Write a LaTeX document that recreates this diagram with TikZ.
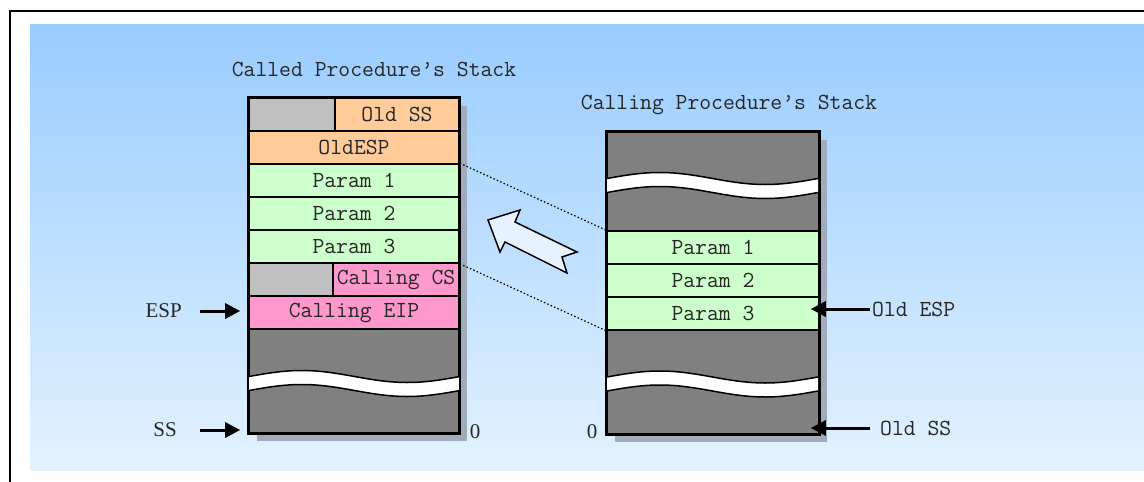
\documentclass[tikz,border=0pt]{standalone}
\usepackage{fontspec}
\usepackage{xcolor}
\usepackage{tikz}
\usetikzlibrary{arrows.meta,positioning}
\newfontfamily\labelfont{Liberation Serif}
\definecolor{skytop}{RGB}{153,204,255}
\definecolor{skybot}{RGB}{227,242,255}
\definecolor{oldclr}{RGB}{255,204,153}
\definecolor{parclr}{RGB}{204,255,204}
\definecolor{callclr}{RGB}{255,153,204}
\definecolor{padclr}{RGB}{192,192,192}
\definecolor{memclr}{RGB}{128,128,128}
\definecolor{shadeclr}{RGB}{160,172,188}
\definecolor{arrowfill}{RGB}{230,242,255}

\begin{document}
\begin{tikzpicture}[x=1pt,y=-1pt,
  cell/.style={draw,line width=1.6pt,inner sep=0pt,minimum height=33pt,text=black!85,font=\fontsize{23}{25}\selectfont\ttfamily},
  lwide/.style={cell,minimum width=210pt},
  rwide/.style={cell,minimum width=212pt},
  stkline/.style={line width=2.2pt},
  stkshade/.style={fill=shadeclr},
  ptr/.style={-{Triangle[length=15pt,width=15pt]},line width=3pt},
  link/.style={line width=1.2pt,dash pattern=on 1.5pt off 2.2pt},
  mono/.style={inner sep=0pt,text=black!85,font=\fontsize{23}{25}\selectfont\ttfamily},
  lbl/.style={inner sep=0pt,text=black!85,font=\fontsize{21}{24}\labelfont},
  gap/.pic={
    \fill[white] (0,0) sin (52.75,-6) cos (105.5,0) sin (158.25,6) cos (211,0)
      -- (211,14) sin (158.25,20) cos (105.5,14) sin (52.75,8) cos (0,14) -- cycle;
    \draw[line width=1.5pt] (0,0) sin (52.75,-6) cos (105.5,0) sin (158.25,6) cos (211,0);
    \draw[line width=1.5pt] (0,14) sin (52.75,8) cos (105.5,14) sin (158.25,20) cos (211,14);
  }]
\useasboundingbox (0,0) rectangle (1144,482);
% background and frame
\fill[white] (0,0) rectangle (1144,482);
\shade[top color=skytop,bottom color=skybot] (30,24) rectangle (1144,470);
\draw[line width=2.2pt] (10,11) rectangle (1160,500);
% shadows
\fill[stkshade] (257,106) rectangle (467,441);
\fill[stkshade] (615,140) rectangle (827,442);
% called procedure's stack
\node[cell,fill=padclr,minimum width=86pt]   (lgs)  at (292,114.5) {};
\node[cell,fill=oldclr,minimum width=124pt]  (lss)  at (397,114.5) {Old SS};
\node[lwide,fill=oldclr]  (lesp) at (354,147.5) {OldESP};
\node[lwide,fill=parclr]  (lp1)  at (354,180.5) {Param 1};
\node[lwide,fill=parclr]  (lp2)  at (354,213.5) {Param 2};
\node[lwide,fill=parclr]  (lp3)  at (354,246.5) {Param 3};
\node[cell,fill=padclr,minimum width=84pt]   (lgc)  at (291,279.5) {};
\node[cell,fill=callclr,minimum width=126pt] (lcs)  at (396,279.5) {Calling CS};
\node[lwide,fill=callclr] (leip) at (354,312.5) {Calling EIP};
\node[lwide,fill=memclr,minimum height=104pt] (llo) at (354,381) {};
\pic at (249,376.5) {gap};
\draw[stkline] (lgs.north west) rectangle (llo.south east);
% calling procedure's stack
\node[rwide,fill=memclr,minimum height=99pt] (rhi) at (713,181.5) {};
\node[rwide,fill=parclr]  (rp1)  at (713,247.5) {Param 1};
\node[rwide,fill=parclr]  (rp2)  at (713,280.5) {Param 2};
\node[rwide,fill=parclr]  (rp3)  at (713,313.5) {Param 3};
\node[rwide,fill=memclr,minimum height=104pt] (rlo) at (713,382) {};
\pic at (607,178.5) {gap};
\pic at (607,377) {gap};
\draw[stkline] (rhi.north west) rectangle (rlo.south east);
% copied parameters
\draw[link] (lp1.north east) -- (rp1.north west);
\draw[link] (lp3.south east) -- (rp3.south west);
\draw[line width=1.5pt,fill=arrowfill,line join=miter] (488,220) -- (520,210) -- (515,222) -- (577,252)
  -- (562,257) -- (567,273) -- (505,242) -- (500,252) -- cycle;
% titles and labels
\node[mono] (ltitle) at (374,69) {Called Procedure’s Stack};
\node[mono] (rtitle) at (729,105) {Calling Procedure’s Stack};
\node[lbl,anchor=east] (esp) at (182,311) {ESP};
\node[lbl,anchor=east] (ss) at (177,430) {SS};
\node[lbl] (lzero) at (475,432) {0};
\node[lbl] (rzero) at (592,432) {0};
\node[mono,anchor=west] (oesp) at (872,309) {Old ESP};
\node[mono,anchor=west] (oss) at (880,428) {Old SS};
% pointers
\draw[ptr,shorten <=18pt,shorten >=8pt] (esp.east) -- (esp.east -| leip.west);
\draw[ptr,shorten <=23pt,shorten >=8pt] (ss.east) -- (ss.east -| llo.west);
\draw[ptr,shorten <=2pt,shorten >=-9pt] (oesp.west) -- (oesp.west -| rp3.east);
\draw[ptr,shorten <=10pt,shorten >=-9pt] (oss.west) -- (oss.west -| rlo.east);
\end{tikzpicture}
\end{document}
